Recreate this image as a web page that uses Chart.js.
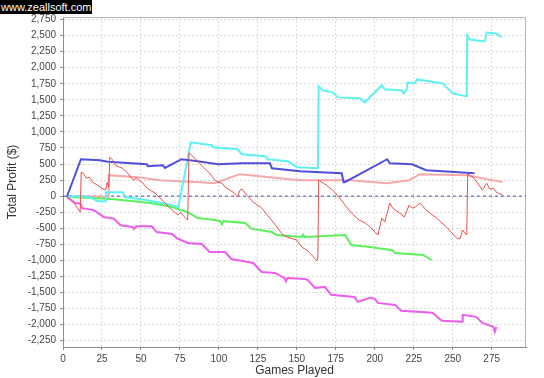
<!DOCTYPE html>
<html><head><meta charset="utf-8">
<script src="https://cdn.jsdelivr.net/npm/chart.js@4.4.1/dist/chart.umd.min.js"></script>
<style>
html,body{margin:0;padding:0;background:#fff;}
#wrap{position:relative;width:544px;height:378px;}
#wm{position:absolute;left:0;top:0;background:#000;color:#fff;font:11px "Liberation Sans",Arial,sans-serif;line-height:14px;height:14px;padding:0 1px 0 1px;}
</style></head><body>
<div id="wrap"><canvas id="c" width="544" height="378"></canvas><div id="wm">www.zeallsoft.com</div></div>
<script>
const xTicks = [0,25,50,75,100,125,150,175,200,225,250,275];
const yTicks = [-2250,-2000,-1750,-1500,-1250,-1000,-750,-500,-250,0,250,500,750,1000,1250,1500,1750,2000,2250,2500,2750];

const blueGames  = [2.5, 11.5, 23.7, 28.8, 53.8, 54.5, 64, 65.4, 76, 86.5, 99.4, 114.7, 132.7, 134, 152, 178.8, 180, 180.8, 208, 209.6, 224, 233, 264];
const blueProfit = [-10, 575, 560, 534, 497, 466, 482, 440, 575, 544, 497, 513, 513, 435, 389, 357, 218, 218, 575, 513, 497, 404, 357];

const cyanGames  = [2.5, 14, 20, 22, 27, 27.5, 38.5, 39.5, 50, 60, 70, 74, 82, 95.5, 96, 112, 114.7, 129.5, 131.4, 144.2, 150, 163.5, 164, 166.7, 173, 176.3, 190.4, 193.6, 204.5, 206.4, 217.3, 218.6, 220.5, 221, 225.6, 227, 243.6, 250, 259, 259.3, 261, 270.5, 271.8, 278, 281.4];
const cyanProfit = [-10, 0, -47, -78, -78, 62, 62, -15, -47, -93, -140, -171, 839, 793, 761, 730, 653, 622, 575, 544, 451, 435, 1709, 1647, 1616, 1538, 1523, 1461, 1725, 1663, 1647, 1600, 1663, 1772, 1756, 1818, 1756, 1600, 1554, 2502, 2440, 2409, 2549, 2533, 2471];

const pinkGames  = [2.5, 29, 29.3, 48, 62, 88, 97, 113.5, 152, 184, 207.7, 222, 229, 259, 282];
const pinkProfit = [-10, -10, 326, 295, 248, 218, 202, 342, 248, 248, 202, 248, 342, 326, 218];

const redGames  = [2.5, 5, 8, 11, 11.7, 13, 15, 17, 19, 22, 25, 27.3, 28.4, 29.4, 30, 32, 33.5, 38, 41, 45, 47, 50.6, 54, 59, 65, 68, 73.7, 75.5, 77, 80, 80.8, 84.6, 90, 94, 97.4, 99.4, 102, 104, 109, 112, 113.5, 115, 118, 122, 127.5, 132.7, 137.8, 141, 145.5, 150, 152, 154, 156.4, 159.6, 162.8, 163.5, 164, 166, 169, 173, 177.5, 181, 185, 190, 194, 197, 202, 204.5, 206.4, 209.6, 211.5, 216, 219, 222, 224, 226, 229, 233, 239.7, 246, 252.5, 254.5, 256.4, 259, 259.6, 263, 266, 269, 271.8, 273.7, 276, 278, 282];
const redProfit = [-10, -60, -140, -250, 373, 357, 280, 295, 218, 171, 124, 93, 218, 140, 606, 560, 480, 435, 373, 249, 280, 218, 124, 47, -93, -171, -295, -250, -300, -373, 675, 590, 451, 357, 249, 218, 202, 140, 62, -15, 93, 109, 15, -93, -187, -342, -497, -606, -653, -684, -761, -808, -840, -917, -1010, -964, 249, 218, 171, 93, -31, -140, -264, -373, -420, -480, -606, -342, -404, -109, -187, -264, -326, -140, -187, -171, -109, -218, -342, -482, -653, -668, -528, -606, 342, 295, 202, 93, 202, 109, 124, 62, 16];

const greenGames  = [2.5, 33, 50, 57, 70, 76, 80, 86.5, 97.4, 101, 102, 103, 117, 121, 134, 137, 153, 154, 155, 181, 185, 197, 201, 211, 213, 231, 236.5];
const greenProfit = [-10, -47, -93, -110, -170, -218, -250, -342, -373, -390, -440, -390, -420, -510, -560, -606, -637, -600, -637, -606, -761, -792, -808, -840, -886, -917, -995];

const magentaGames  = [2.5, 8, 11, 12.3, 19.8, 26.2, 32.6, 37, 44.5, 45.5, 47, 57, 60, 70, 73, 80, 89, 94, 104, 108, 122, 127.5, 136, 142, 143, 144, 155, 157, 161.5, 168, 172, 187, 189, 197, 200, 202, 213, 217, 237, 243, 256, 256.4, 265, 269, 276, 277, 278];
const magentaProfit = [-10, -110, -110, -188, -218, -325, -350, -455, -480, -510, -470, -470, -560, -590, -653, -730, -746, -870, -870, -979, -1041, -1181, -1197, -1274, -1330, -1274, -1290, -1305, -1430, -1414, -1538, -1570, -1647, -1585, -1600, -1663, -1694, -1787, -1818, -1943, -1958, -1849, -1880, -1974, -2036, -2113, -2036];

const zeroGames = [0, 297];
const zeroProfit = [0, 0];

function pts(xs, ys){ return xs.map((x,i)=>({x:x, y:ys[i]})); }

const FONT = 'Liberation Sans';

const outline = {
  id:'outline',
  beforeDatasetsDraw(chart){
    const {ctx, chartArea:a} = chart;
    ctx.save();
    ctx.strokeStyle = '#b4b4b4';
    ctx.lineWidth = 1;
    ctx.beginPath();
    ctx.moveTo(a.left, a.top+0.5);
    ctx.lineTo(a.right-0.5, a.top+0.5);
    ctx.lineTo(a.right-0.5, a.bottom);
    ctx.stroke();
    ctx.restore();
  }
};

new Chart(document.getElementById('c'), {
  type:'line',
  data:{
    datasets:[
      {data:pts(zeroGames, zeroProfit), borderColor:'#4444c4', borderWidth:1, borderDash:[3,3], order:10},
      {data:pts(pinkGames, pinkProfit), borderColor:'#f7a8a8', borderWidth:2, order:6},
      {data:pts(greenGames, greenProfit), borderColor:'#5cf05c', borderWidth:2, order:5},
      {data:pts(magentaGames, magentaProfit), borderColor:'#ee5cee', borderWidth:2, order:4},
      {data:pts(cyanGames, cyanProfit), borderColor:'#5cf2f2', borderWidth:2, order:3},
      {data:pts(blueGames, blueProfit), borderColor:'#4f4fdc', borderWidth:2, order:2},
      {data:pts(redGames, redProfit), borderColor:'#e85050', borderWidth:1, order:1}
    ]
  },
  options:{
    responsive:false,
    animation:false,
    layout:{padding:{left:0, top:17, right:18, bottom:0}},
    plugins:{legend:{display:false}, tooltip:{enabled:false}},
    elements:{point:{radius:0}, line:{tension:0, fill:false}},
    scales:{
      x:{
        type:'linear', min:0, max:297,
        afterFit(s){ s.height = 31; },
        afterBuildTicks(s){ s.ticks = xTicks.map(v=>({value:v})); },
        ticks:{font:{family:FONT, size:10}, color:'#444', padding:3, maxRotation:0, autoSkip:false},
        grid:{color:'#d9d9d9', tickColor:'#8c8c8c', tickLength:3},
        border:{color:'#8c8c8c', dash:[2,2]},
        title:{display:true, text:'Games Played', font:{family:FONT, size:12}, color:'#333', padding:{top:0,bottom:0}}
      },
      y:{
        type:'linear', min:-2350, max:2790,
        afterFit(s){ s.width = 63; },
        afterBuildTicks(s){ s.ticks = yTicks.map(v=>({value:v})); },
        ticks:{font:{family:FONT, size:10}, color:'#444', padding:4, autoSkip:false,
               callback:v=>v.toLocaleString('en-US')},
        grid:{color:'#d9d9d9', tickColor:'#8c8c8c', tickLength:3},
        border:{color:'#8c8c8c', dash:[2,2]},
        title:{display:true, text:'Total Profit ($)', font:{family:FONT, size:12}, color:'#333', padding:{top:5,bottom:0}}
      }
    }
  },
  plugins:[outline]
});
</script>
</body></html>
